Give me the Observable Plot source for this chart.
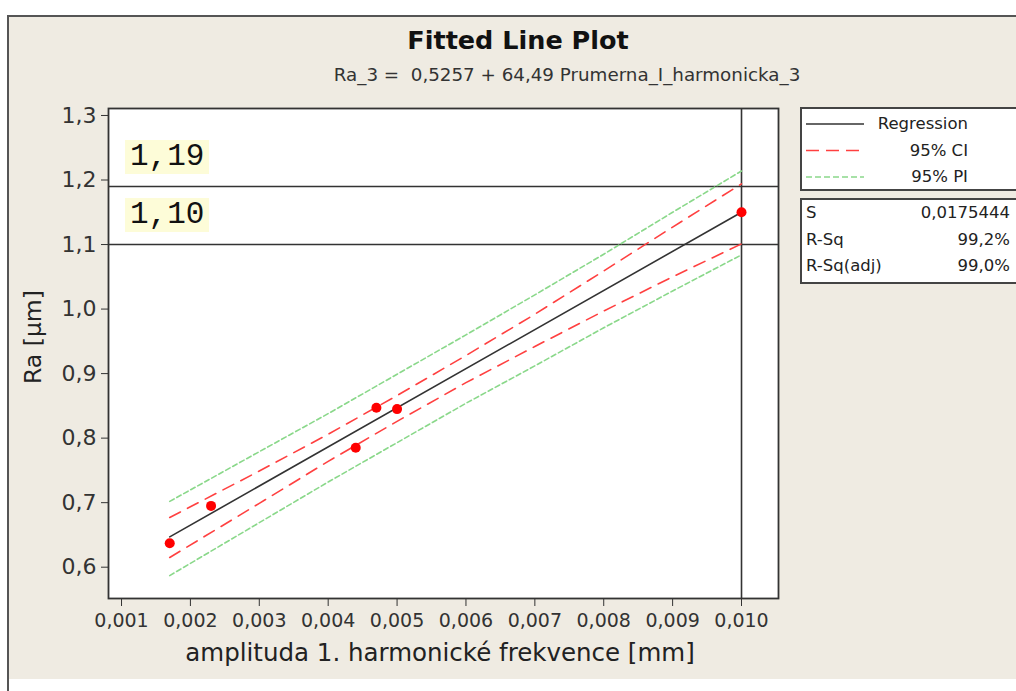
<!DOCTYPE html>
<html>
<head>
<meta charset="utf-8">
<script src="https://cdn.jsdelivr.net/npm/d3@7"></script>
<script src="https://cdn.jsdelivr.net/npm/@observablehq/plot@0.6"></script>
<style>
  html, body { margin: 0; padding: 0; background: #ffffff; }
  #wrap { position: relative; width: 1016px; height: 691px; overflow: hidden; font-family: "DejaVu Sans", sans-serif; color: #333; }
  #panel { position: absolute; left: 8px; top: 15px; width: 1010px; height: 664px; background: #EFEBE2; border-top: 2px solid #555; box-sizing: border-box; }
  #vline { position: absolute; left: 7px; top: 15px; width: 2px; height: 676px; background: #555; }
  #chart { position: absolute; left: 0; top: 0; }
  .t { position: absolute; white-space: pre; }
  .box { position: absolute; background: #fff; border: 2px solid #444; box-sizing: border-box; }
  .ann { position: absolute; background: #FDFCD8; font-family: "Liberation Mono", "DejaVu Sans Mono", monospace; font-size: 31px; color: #111; padding: 0 5px; line-height: 34px; }
</style>
</head>
<body>
<div id="wrap">
  <div id="panel"></div>
  <div id="vline"></div>
  <div id="chart"></div>
</div>
<script>
// ---- data ----
const titleText = "Fitted Line Plot";
const subtitleText = "Ra_3 =  0,5257 + 64,49 Prumerna_I_harmonicka_3";
const xLabel = "amplituda 1. harmonické frekvence [mm]";
const yLabel = "Ra [µm]";

const amplitude = [0.0017, 0.0023, 0.0044, 0.0047, 0.0050, 0.0100];
const ra = [0.637, 0.695, 0.785, 0.847, 0.845, 1.150];

const fitX = [0.0017, 0.0100];
const fitY = [0.647, 1.150];

const bandX   = [0.0017, 0.0030, 0.0040, 0.0050, 0.0060, 0.0070, 0.0080, 0.0090, 0.0100];
const ciUpper = [0.677, 0.749, 0.806, 0.866, 0.928, 0.992, 1.059, 1.127, 1.194];
const ciLower = [0.615, 0.699, 0.764, 0.826, 0.886, 0.942, 0.997, 1.050, 1.101];
const piUpper = [0.702, 0.779, 0.838, 0.899, 0.960, 1.022, 1.085, 1.150, 1.214];
const piLower = [0.587, 0.669, 0.732, 0.793, 0.854, 0.912, 0.971, 1.028, 1.084];

const refLevels = [1.19, 1.10];
const refLabels = ["1,19", "1,10"];
const refX = [0.010];

const xTicks = [0.001, 0.002, 0.003, 0.004, 0.005, 0.006, 0.007, 0.008, 0.009, 0.010];
const yTicks = [0.6, 0.7, 0.8, 0.9, 1.0, 1.1, 1.2, 1.3];

const legendNames = ["Regression", "95% CI", "95% PI"];
const statNames = ["S", "R-Sq", "R-Sq(adj)"];
const statValues = ["0,0175444", "99,2%", "99,0%"];

// ---- build tables ----
const points = amplitude.map((x, i) => ({x, y: ra[i]}));
const fit = fitX.map((x, i) => ({x, y: fitY[i]}));
const band = (arr) => bandX.map((x, i) => ({x, y: arr[i]}));

const comma = (s) => s.replace(".", ",");

const chart = Plot.plot({
  width: 1016,
  height: 691,
  marginLeft: 108,
  marginRight: 238,
  marginTop: 108,
  marginBottom: 93,
  x: {domain: [0.000811, 0.010537], label: null},
  y: {domain: [0.5515, 1.3108], label: null},
  style: {fontFamily: "DejaVu Sans", fontSize: "18px", background: "transparent", color: "#333"},
  marks: [
    Plot.frame({fill: "white", stroke: null}),
    Plot.ruleY(refLevels, {stroke: "#333", strokeWidth: 1.6}),
    Plot.ruleX(refX, {stroke: "#333", strokeWidth: 1.6}),
    Plot.line(band(piUpper), {x: "x", y: "y", stroke: "#8ad88a", strokeWidth: 1.6, strokeDasharray: "5,3"}),
    Plot.line(band(piLower), {x: "x", y: "y", stroke: "#8ad88a", strokeWidth: 1.6, strokeDasharray: "5,3"}),
    Plot.line(band(ciUpper), {x: "x", y: "y", stroke: "#ff4040", strokeWidth: 1.6, strokeDasharray: "12,8"}),
    Plot.line(band(ciLower), {x: "x", y: "y", stroke: "#ff4040", strokeWidth: 1.6, strokeDasharray: "12,8"}),
    Plot.line(fit, {x: "x", y: "y", stroke: "#333", strokeWidth: 1.6}),
    Plot.dot(points, {x: "x", y: "y", r: 5, fill: "#ff0000", stroke: null}),
    Plot.axisX({ticks: xTicks, tickFormat: d => comma(d.toFixed(3)), tickSize: 8, tickPadding: 7, stroke: "#333", fill: "#333", fontSize: 19}),
    Plot.axisY({ticks: yTicks, tickFormat: d => comma(d.toFixed(1)), tickSize: 7, tickPadding: 5, stroke: "#333", fill: "#333", fontSize: 22}),
    Plot.frame({stroke: "#333", strokeWidth: 1.8})
  ]
});
// make sure tick labels use the intended sizes
chart.querySelectorAll("g[aria-label='x-axis tick label']").forEach(g => {
  g.setAttribute("font-size", "19");
});
chart.querySelectorAll("g[aria-label='y-axis tick label']").forEach(g => {
  g.setAttribute("font-size", "22");
});
document.getElementById("chart").appendChild(chart);

// ---- text and legend overlays ----
const wrap = document.getElementById("wrap");
function addText(txt, css) {
  const d = document.createElement("div");
  d.className = "t";
  d.textContent = txt;
  Object.assign(d.style, css);
  wrap.appendChild(d);
  return d;
}
addText(titleText, {left: "518px", top: "40px", transform: "translate(-50%,-50%)", fontWeight: "bold", fontSize: "25.5px", color: "#111"});
addText(subtitleText, {left: "567px", top: "74px", transform: "translate(-50%,-50%)", fontSize: "18.3px", color: "#333"});
addText(xLabel, {left: "440px", top: "652px", transform: "translate(-50%,-50%)", fontSize: "24.5px", color: "#222"});
addText(yLabel, {left: "33px", top: "337px", transform: "translate(-50%,-50%) rotate(-90deg)", fontSize: "23.5px", color: "#222"});

// reference labels
const yScale = chart.scale("y");
refLabels.forEach((lab, i) => {
  const d = document.createElement("div");
  d.className = "ann";
  d.textContent = lab;
  const py = yScale.apply(refLevels[i]);
  d.style.left = "125px";
  d.style.top = (py - 46) + "px";
  wrap.appendChild(d);
});

// legend box
const lb = document.createElement("div");
lb.className = "box";
Object.assign(lb.style, {left: "800px", top: "107px", width: "240px", height: "84px"});
wrap.appendChild(lb);
const sb = document.createElement("div");
sb.className = "box";
Object.assign(sb.style, {left: "800px", top: "198px", width: "240px", height: "86px"});
wrap.appendChild(sb);

const ns = "http://www.w3.org/2000/svg";
const lsvg = document.createElementNS(ns, "svg");
lsvg.setAttribute("width", "1016");
lsvg.setAttribute("height", "691");
lsvg.style.position = "absolute";
lsvg.style.left = "0";
lsvg.style.top = "0";
wrap.appendChild(lsvg);
const legendStyles = [
  {stroke: "#333", dash: null},
  {stroke: "#ff4040", dash: "13,7"},
  {stroke: "#8ad88a", dash: "6,3"}
];
legendNames.forEach((name, i) => {
  const y = 124 + i * 26.5;
  const ln = document.createElementNS(ns, "line");
  ln.setAttribute("x1", 806); ln.setAttribute("x2", 864);
  ln.setAttribute("y1", y); ln.setAttribute("y2", y);
  ln.setAttribute("stroke", legendStyles[i].stroke);
  ln.setAttribute("stroke-width", 1.6);
  if (legendStyles[i].dash) ln.setAttribute("stroke-dasharray", legendStyles[i].dash);
  lsvg.appendChild(ln);
  addText(name, {right: (1016 - 968) + "px", top: (y - 11) + "px", fontSize: "16.5px", lineHeight: "22px", color: "#222"});
});
statNames.forEach((name, i) => {
  const y = 213 + i * 26.5;
  addText(name, {left: "806px", top: (y - 11) + "px", fontSize: "16.5px", lineHeight: "22px", color: "#222"});
  addText(statValues[i], {right: "6px", top: (y - 11) + "px", fontSize: "16.5px", lineHeight: "22px", color: "#222"});
});
</script>
</body>
</html>
